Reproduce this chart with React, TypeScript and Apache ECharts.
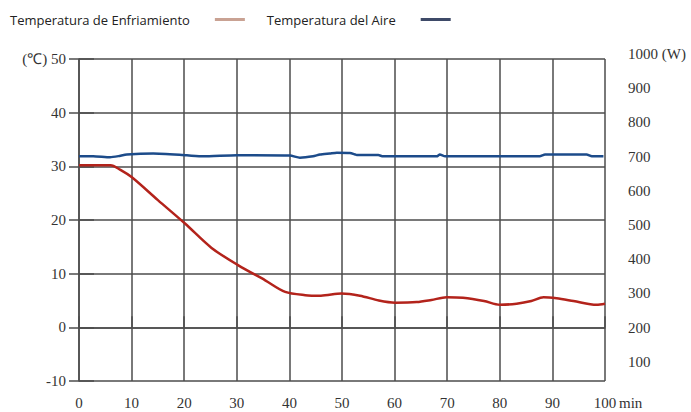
import React, { useEffect, useRef } from "react";
import * as echarts from "echarts";

const coolingX = [0, 3, 6, 7.8, 10, 15, 20.2, 25.2, 30.3, 35.4, 39.2, 43, 46, 49.9, 53.4, 57, 60.1, 64.2, 67, 69.9, 73, 77, 80, 83.2, 86, 88.3, 90.8, 94, 98.4, 100];
const coolingY = [30.2, 30.2, 30.2, 29.4, 28.0, 23.7, 19.3, 14.8, 11.55, 8.76, 6.6, 6.0, 5.9, 6.3, 5.9, 5.0, 4.6, 4.7, 5.1, 5.6, 5.5, 4.9, 4.2, 4.4, 4.9, 5.6, 5.4, 4.9, 4.2, 4.4];

const airX = [0, 2.7, 5.9, 7.5, 9.1, 14.1, 20.5, 23.6, 30, 40.1, 42, 44.5, 45.8, 47.7, 49, 51.5, 52.5, 52.8, 56.9, 57.8, 68, 68.6, 69.6, 87.6, 88.6, 96.5, 97.5, 99.7];
const airY = [31.9, 31.9, 31.7, 31.9, 32.2, 32.4, 32.05, 31.86, 32.05, 32.0, 31.6, 31.86, 32.2, 32.4, 32.55, 32.5, 32.2, 32.1, 32.1, 31.86, 31.86, 32.2, 31.86, 31.9, 32.2, 32.2, 31.86, 31.86];

const seriesNames = ["Temperatura de Enfriamiento", "Temperatura del Aire"];
const xTicksMin = 0;
const xTicksMax = 100;
const leftMin = -10;
const leftMax = 50;
const rightMin = 0;
const rightMax = 1000;

const GRID = "#4d4d4d";
const LABEL = "#333";
const SERIF = "serif";

export default function App() {
  const ref = useRef<HTMLDivElement>(null);
  useEffect(() => {
    if (!ref.current) return;
    const chart = echarts.init(ref.current, null, { renderer: "svg" });
    const lineStyle = { color: GRID, width: 1.5 };
    const labelStyle = { color: LABEL, fontFamily: SERIF, fontSize: 15 };
    chart.setOption({
      animation: false,
      backgroundColor: "#fff",
      textStyle: { fontFamily: SERIF },
      legend: {
        left: 5,
        top: 8,
        align: "right",
        itemGap: 22,
        itemWidth: 30,
        itemHeight: 3,
        icon: "rect",
        textStyle: { fontFamily: "Open Sans", fontSize: 13, color: "#222", padding: [0, 20, 0, 0] },
        data: [
          { name: seriesNames[0], itemStyle: { color: "#c9a293" } },
          { name: seriesNames[1], itemStyle: { color: "#3e4a68" } },
        ],
      },
      grid: [
        { left: 79, top: 59, width: 526, height: 322 },
        { left: 79, top: 54, width: 541, height: 342 },
      ],
      xAxis: [
        {
          gridIndex: 0,
          type: "value",
          min: xTicksMin,
          max: xTicksMax,
          interval: 10,
          position: "bottom",
          axisLine: { show: true, lineStyle },
          axisTick: { show: false },
          splitLine: { show: true, lineStyle },
          axisLabel: { ...labelStyle, margin: 14 },
        },
        {
          gridIndex: 0,
          type: "value",
          min: xTicksMin,
          max: xTicksMax,
          interval: 10,
          position: "top",
          axisLine: { show: false },
          axisTick: { show: true, length: 11, lineStyle },
          splitLine: { show: false },
          axisLabel: { show: false },
        },
        {
          gridIndex: 1,
          type: "value",
          min: 0,
          max: 1,
          show: false,
        },
      ],
      yAxis: [
        {
          gridIndex: 0,
          type: "value",
          min: leftMin,
          max: leftMax,
          interval: 10,
          position: "left",
          axisLine: { show: true, lineStyle },
          axisTick: { show: true, length: 10, lineStyle },
          splitLine: { show: true, lineStyle },
          axisLabel: {
            ...labelStyle,
            margin: 13,
            formatter: (v: number) => (v === 50 ? "(℃) 50" : String(v)),
          },
        },
        {
          gridIndex: 0,
          type: "value",
          min: leftMin,
          max: leftMax,
          interval: 10,
          position: "right",
          axisLine: { show: false },
          axisTick: { show: true, length: 15, lineStyle },
          splitLine: { show: false },
          axisLabel: { show: false },
        },
        {
          gridIndex: 1,
          type: "value",
          min: rightMin,
          max: rightMax,
          interval: 100,
          position: "right",
          axisLine: { show: false },
          axisTick: { show: false },
          splitLine: { show: false },
          axisLabel: {
            ...labelStyle,
            margin: 8,
            formatter: (v: number) => (v === 0 ? "" : v === 1000 ? "1000 (W)" : String(v)),
          },
        },
      ],
      graphic: [
        {
          type: "text",
          left: 619,
          top: 395,
          style: { text: "min", fill: LABEL, font: "15px serif" },
        },
      ],
      series: [
        {
          name: seriesNames[0],
          type: "line",
          xAxisIndex: 0,
          yAxisIndex: 0,
          smooth: 0.3,
          showSymbol: false,
          lineStyle: { color: "#b3231b", width: 2.5 },
          itemStyle: { color: "#b3231b" },
          data: coolingX.map((x, i) => [x, coolingY[i]]),
        },
        {
          name: seriesNames[1],
          type: "line",
          xAxisIndex: 0,
          yAxisIndex: 0,
          smooth: 0.2,
          showSymbol: false,
          lineStyle: { color: "#1c4b8a", width: 2.5 },
          itemStyle: { color: "#1c4b8a" },
          data: airX.map((x, i) => [x, airY[i]]),
        },
      ],
    });
    return () => chart.dispose();
  }, []);
  return <div ref={ref} style={{ width: 691, height: 412, position: "absolute", left: 0, top: 0 }} />;
}
